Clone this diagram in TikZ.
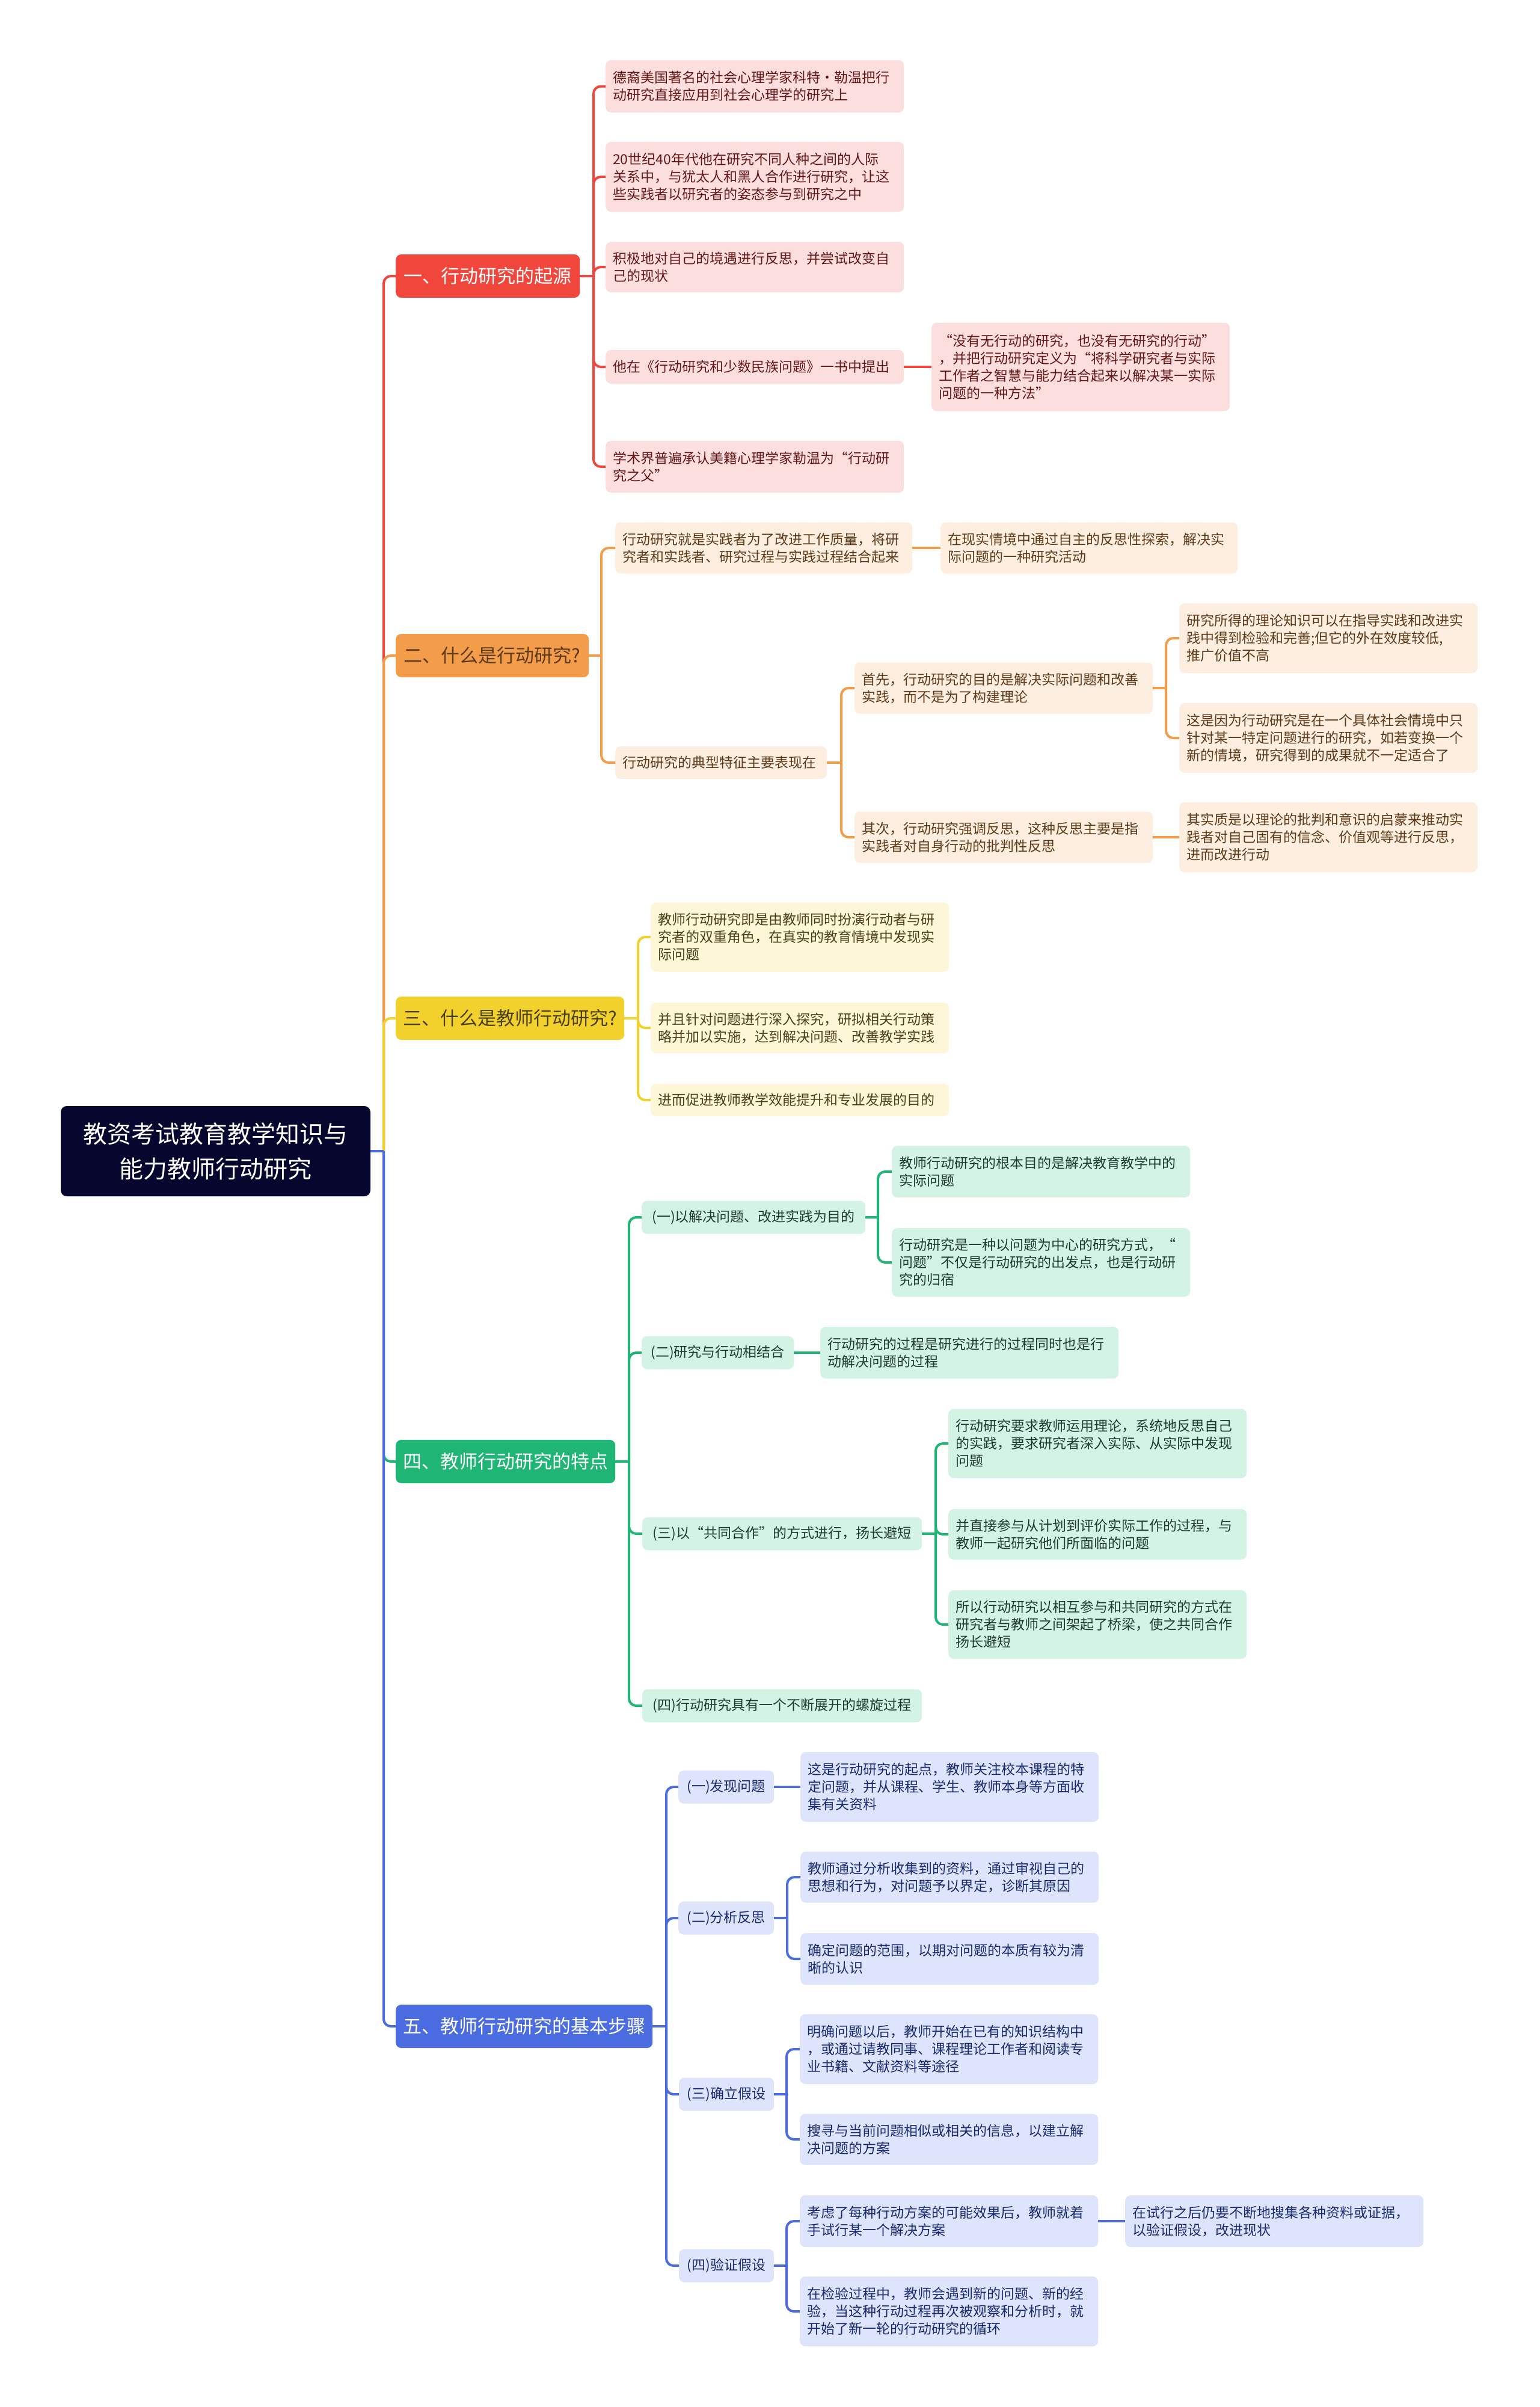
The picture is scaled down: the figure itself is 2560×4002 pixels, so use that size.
\documentclass[tikz,border=0pt]{standalone}
\usepackage{fontspec}
\setmainfont{Noto Sans CJK SC}
\definecolor{cR}{HTML}{F0463C}
\definecolor{cRf}{HTML}{FCDEDE}
\definecolor{cRt}{HTML}{641818}
\definecolor{cO}{HTML}{F39D4B}
\definecolor{cOf}{HTML}{FDEEDF}
\definecolor{cOt}{HTML}{5C3A1A}
\definecolor{cY}{HTML}{F3D12C}
\definecolor{cYf}{HTML}{FDF6D7}
\definecolor{cYt}{HTML}{4A401A}
\definecolor{cG}{HTML}{1FB574}
\definecolor{cGf}{HTML}{D3F3E4}
\definecolor{cGt}{HTML}{1E3B2D}
\definecolor{cB}{HTML}{4A6CE0}
\definecolor{cBf}{HTML}{DDE4FB}
\definecolor{cBt}{HTML}{1A2A6E}
\definecolor{cRoot}{HTML}{06062E}
\newcommand\leaffont{\fontsize{23pt}{29pt}\selectfont}
\begin{document}
\begin{tikzpicture}[x=1pt,y=-1pt,
  rootbox/.style={fill=cRoot, text=white, rounded corners=10pt, minimum width=515pt, minimum height=150pt, align=center, inner sep=0pt, font=\fontsize{40pt}{58pt}\selectfont},
  br/.style={anchor=west, rounded corners=9pt, minimum height=72pt, inner xsep=12pt, inner ysep=0pt, font=\fontsize{31pt}{36pt}\selectfont},
  lf/.style={anchor=west, rounded corners=9pt, inner xsep=12pt, inner ysep=0pt, align=left, text width=472pt, font=\leaffont},
  mid/.style={anchor=west, rounded corners=9pt, inner xsep=12pt, inner ysep=0pt, minimum height=55pt, font=\leaffont},
  rl/.style={lf, fill=cRf, text=cRt},
  ol/.style={lf, fill=cOf, text=cOt},
  yl/.style={lf, fill=cYf, text=cYt},
  gl/.style={lf, fill=cGf, text=cGt},
  gm/.style={mid, fill=cGf, text=cGt},
  bl/.style={lf, fill=cBf, text=cBt},
  bm/.style={mid, fill=cBf, text=cBt},
  cn/.style={draw=#1, line width=4pt, rounded corners=12pt}
]
\fill[white] (0,0) rectangle (2560,4002);
\useasboundingbox (0,0) rectangle (2560,4002);

% root and main branches
\node[rootbox] (root) at (358.5,1914) {教资考试教育教学知识与\\能力教师行动研究};
\node[br, fill=cR, text=white, minimum width=306pt] (R) at (658,459) {一、行动研究的起源};
\node[br, fill=cO, text=cOt, minimum width=321pt] (O) at (658,1090) {二、什么是行动研究?};
\node[br, fill=cY, text=cYt, minimum width=380pt] (Y) at (658,1693) {三、什么是教师行动研究?};
\node[br, fill=cG, text=white, minimum width=365pt] (G) at (658,2430) {四、教师行动研究的特点};
\node[br, fill=cB, text=white, minimum width=427pt] (B) at (658,3369) {五、教师行动研究的基本步骤};

\coordinate (s0) at (638,1914);
\draw[cn=cR] (s0) |- (R.west);
\draw[cn=cO] (s0) |- (O.west);
\draw[cn=cY] (s0) |- (Y.west);
\draw[cn=cG] (s0) |- (G.west);
\draw[cn=cB] (s0) |- (B.west);
\draw[cn=cB] (root.east) -- (s0);

% branch 1
\node[rl, minimum height=87pt] (r1) at (1007,143.5) {德裔美国著名的社会心理学家科特·勒温把行\\动研究直接应用到社会心理学的研究上};
\node[rl, minimum height=116pt] (r2) at (1007,294) {20世纪40年代他在研究不同人种之间的人际\\关系中，与犹太人和黑人合作进行研究，让这\\些实践者以研究者的姿态参与到研究之中};
\node[rl, minimum height=84pt] (r3) at (1007,444) {积极地对自己的境遇进行反思，并尝试改变自\\己的现状};
\node[rl, minimum height=56pt] (r4) at (1007,610) {他在《行动研究和少数民族问题》一书中提出};
\node[rl, minimum height=147pt] (r4c) at (1549,610) {“没有无行动的研究，也没有无研究的行动”\\，并把行动研究定义为“将科学研究者与实际\\工作者之智慧与能力结合起来以解决某一实际\\问题的一种方法”};
\node[rl, minimum height=86pt] (r5) at (1007,776) {学术界普遍承认美籍心理学家勒温为“行动研\\究之父”};
\coordinate (sR) at (987,459);
\draw[cn=cR] (R.east) -- (sR);
\foreach \n in {r1,r2,r3,r4,r5} \draw[cn=cR] (sR) |- (\n.west);
\draw[cn=cR] (r4.east) -- (r4c.west);

% branch 2
\node[ol, text width=470pt, minimum height=85pt] (o1) at (1023,911) {行动研究就是实践者为了改进工作质量，将研\\究者和实践者、研究过程与实践过程结合起来};
\node[ol, text width=470pt, minimum height=85pt] (o1c) at (1564,911) {在现实情境中通过自主的反思性探索，解决实\\际问题的一种研究活动};
\node[ol, text width=328pt, minimum height=54pt] (o2) at (1023,1268) {行动研究的典型特征主要表现在};
\node[ol, minimum height=85pt] (o21) at (1421,1144) {首先，行动研究的目的是解决实际问题和改善\\实践，而不是为了构建理论};
\node[ol, minimum height=116pt] (o211) at (1961,1061) {研究所得的理论知识可以在指导实践和改进实\\践中得到检验和完善;但它的外在效度较低,\\推广价值不高};
\node[ol, minimum height=116pt] (o212) at (1961,1227) {这是因为行动研究是在一个具体社会情境中只\\针对某一特定问题进行的研究，如若变换一个\\新的情境，研究得到的成果就不一定适合了};
\node[ol, minimum height=85pt] (o22) at (1421,1392) {其次，行动研究强调反思，这种反思主要是指\\实践者对自身行动的批判性反思};
\node[ol, minimum height=116pt] (o221) at (1961,1392) {其实质是以理论的批判和意识的启蒙来推动实\\践者对自己固有的信念、价值观等进行反思，\\进而改进行动};
\coordinate (sO) at (1000,1090);
\draw[cn=cO] (O.east) -- (sO);
\draw[cn=cO] (sO) |- (o1.west);
\draw[cn=cO] (sO) |- (o2.west);
\draw[cn=cO] (o1.east) -- (o1c.west);
\coordinate (so2) at (1399,1268);
\draw[cn=cO] (o2.east) -- (so2);
\draw[cn=cO] (so2) |- (o21.west);
\draw[cn=cO] (so2) |- (o22.west);
\coordinate (so21) at (1939,1144);
\draw[cn=cO] (o21.east) -- (so21);
\draw[cn=cO] (so21) |- (o211.west);
\draw[cn=cO] (so21) |- (o212.west);
\draw[cn=cO] (o22.east) -- (o221.west);

% branch 3
\node[yl, minimum height=115pt] (y1) at (1082,1558) {教师行动研究即是由教师同时扮演行动者与研\\究者的双重角色，在真实的教育情境中发现实\\际问题};
\node[yl, minimum height=84pt] (y2) at (1082,1709) {并且针对问题进行深入探究，研拟相关行动策\\略并加以实施，达到解决问题、改善教学实践};
\node[yl, minimum height=54pt] (y3) at (1082,1829) {进而促进教师教学效能提升和专业发展的目的};
\coordinate (sY) at (1061,1693);
\draw[cn=cY] (Y.east) -- (sY);
\foreach \n in {y1,y2,y3} \draw[cn=cY] (sY) |- (\n.west);

% branch 4
\node[gm, minimum width=372pt] (g1) at (1067,2024) {(一)以解决问题、改进实践为目的};
\node[gl, minimum height=86pt] (g1a) at (1483,1948) {教师行动研究的根本目的是解决教育教学中的\\实际问题};
\node[gl, minimum height=114pt] (g1b) at (1483,2099) {行动研究是一种以问题为中心的研究方式，“\\问题”不仅是行动研究的出发点，也是行动研\\究的归宿};
\node[gm, minimum width=253pt] (g2) at (1067,2249) {(二)研究与行动相结合};
\node[gl, minimum height=86pt] (g2a) at (1364,2249) {行动研究的过程是研究进行的过程同时也是行\\动解决问题的过程};
\node[gm, minimum width=465pt] (g3) at (1068,2550) {(三)以“共同合作”的方式进行，扬长避短};
\node[gl, minimum height=115pt] (g3a) at (1577,2400) {行动研究要求教师运用理论，系统地反思自己\\的实践，要求研究者深入实际、从实际中发现\\问题};
\node[gl, minimum height=84pt] (g3b) at (1577,2551) {并直接参与从计划到评价实际工作的过程，与\\教师一起研究他们所面临的问题};
\node[gl, minimum height=114pt] (g3c) at (1577,2701) {所以行动研究以相互参与和共同研究的方式在\\研究者与教师之间架起了桥梁，使之共同合作\\扬长避短};
\node[gm, minimum width=465pt] (g4) at (1068,2836) {(四)行动研究具有一个不断展开的螺旋过程};
\coordinate (sG) at (1046,2430);
\draw[cn=cG] (G.east) -- (sG);
\foreach \n in {g1,g2,g3,g4} \draw[cn=cG] (sG) |- (\n.west);
\coordinate (sg1) at (1460,2024);
\draw[cn=cG] (g1.east) -- (sg1);
\draw[cn=cG] (sg1) |- (g1a.west);
\draw[cn=cG] (sg1) |- (g1b.west);
\draw[cn=cG] (g2.east) -- (g2a.west);
\coordinate (sg3) at (1556,2550);
\draw[cn=cG] (g3.east) -- (sg3);
\foreach \n in {g3a,g3b,g3c} \draw[cn=cG] (sg3) |- (\n.west);

% branch 5
\node[bm, minimum width=159pt] (b1) at (1128,2971) {(一)发现问题};
\node[bl, minimum height=116pt] (b1a) at (1331,2971) {这是行动研究的起点，教师关注校本课程的特\\定问题，并从课程、学生、教师本身等方面收\\集有关资料};
\node[bm, minimum width=159pt] (b2) at (1128,3189) {(二)分析反思};
\node[bl, minimum height=85pt] (b2a) at (1331,3121) {教师通过分析收集到的资料，通过审视自己的\\思想和行为，对问题予以界定，诊断其原因};
\node[bl, minimum height=86pt] (b2b) at (1331,3257) {确定问题的范围，以期对问题的本质有较为清\\晰的认识};
\node[bm, minimum width=158pt] (b3) at (1129,3482) {(三)确立假设};
\node[bl, minimum height=116pt] (b3a) at (1330,3407) {明确问题以后，教师开始在已有的知识结构中\\，或通过请教同事、课程理论工作者和阅读专\\业书籍、文献资料等途径};
\node[bl, minimum height=85pt] (b3b) at (1330,3557) {搜寻与当前问题相似或相关的信息，以建立解\\决问题的方案};
\node[bm, minimum width=158pt] (b4) at (1129,3767) {(四)验证假设};
\node[bl, minimum height=86pt] (b4a) at (1330,3693) {考虑了每种行动方案的可能效果后，教师就着\\手试行某一个解决方案};
\node[bl, minimum height=86pt] (b4ac) at (1871,3693) {在试行之后仍要不断地搜集各种资料或证据，\\以验证假设，改进现状};
\node[bl, minimum height=116pt] (b4b) at (1330,3843) {在检验过程中，教师会遇到新的问题、新的经\\验，当这种行动过程再次被观察和分析时，就\\开始了新一轮的行动研究的循环};
\coordinate (sB) at (1108,3369);
\draw[cn=cB] (B.east) -- (sB);
\foreach \n in {b1,b2,b3,b4} \draw[cn=cB] (sB) |- (\n.west);
\draw[cn=cB] (b1.east) -- (b1a.west);
\coordinate (sb2) at (1309,3189);
\draw[cn=cB] (b2.east) -- (sb2);
\draw[cn=cB] (sb2) |- (b2a.west);
\draw[cn=cB] (sb2) |- (b2b.west);
\coordinate (sb3) at (1308,3482);
\draw[cn=cB] (b3.east) -- (sb3);
\draw[cn=cB] (sb3) |- (b3a.west);
\draw[cn=cB] (sb3) |- (b3b.west);
\coordinate (sb4) at (1308,3767);
\draw[cn=cB] (b4.east) -- (sb4);
\draw[cn=cB] (sb4) |- (b4a.west);
\draw[cn=cB] (sb4) |- (b4b.west);
\draw[cn=cB] (b4a.east) -- (b4ac.west);
\end{tikzpicture}
\end{document}
